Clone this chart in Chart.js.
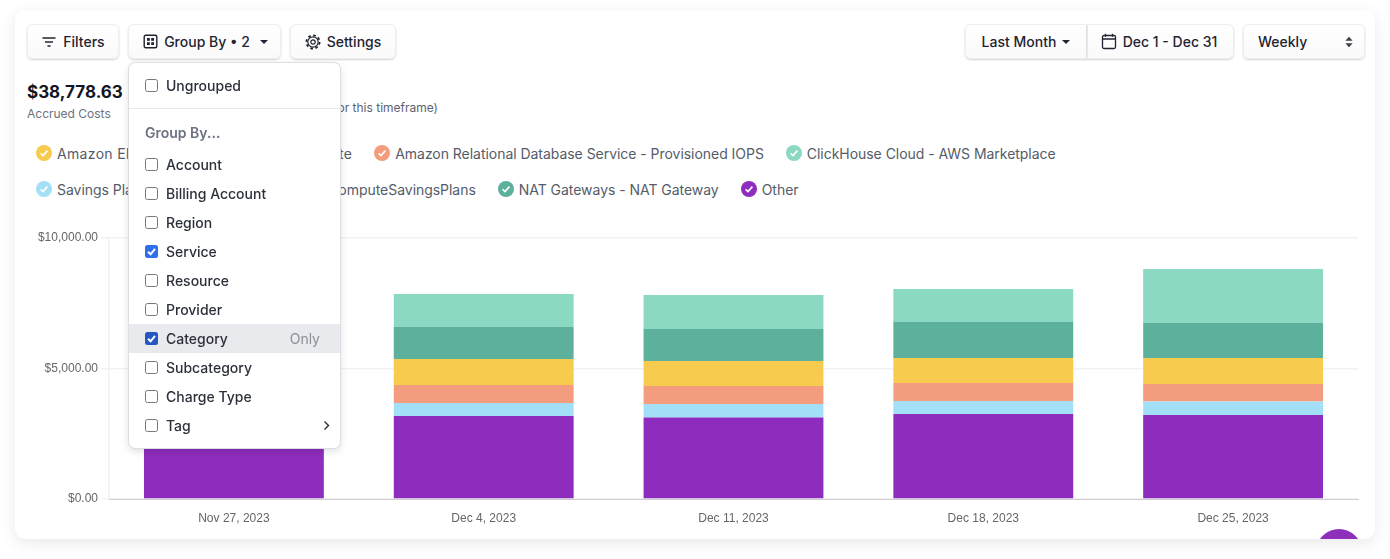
<!DOCTYPE html>
<html>
<head>
<meta charset="utf-8">
<title>Costs</title>
<script src="https://cdn.jsdelivr.net/npm/chart.js@4"></script>
<style>
  * { box-sizing: border-box; }
  html, body { margin: 0; height: 100%; background: #fff; overflow: hidden; font-family: Inter, sans-serif; }
  #card { position: absolute; left: 15px; top: 10px; width: 1360px; height: 529px; background: #fff; border-radius: 10px;
          box-shadow: 0 4px 16px rgba(0,0,0,.09); overflow: hidden; }
  #page { position: absolute; left: 0; top: 0; width: 1390px; height: 559px; }
  .btn { position: absolute; top: 24px; height: 35px; display: flex; align-items: center; justify-content: center; gap: 6px;
         background: linear-gradient(#fff, #fafafa); border-radius: 6px; border: 1px solid #eceef0; box-shadow: 0 1px 2px rgba(0,0,0,.18);
         font-size: 14px; font-weight: 500; color: #1f2430; white-space: nowrap; }
  .caret { width: 0; height: 0; border: 4px solid transparent; border-top: 4px solid #1f2430; border-bottom: 0; }
  #total { position: absolute; left: 27px; top: 81px; font-size: 17px; font-weight: 700; color: #14171f; line-height: 22px; }
  #totalLabel { position: absolute; left: 27px; top: 106px; font-size: 12px; color: #6b7280; line-height: 15px; }
  #forecast { position: absolute; right: 952px; top: 100px; font-size: 12px; color: #5b6270; line-height: 15px; white-space: nowrap; }
  #legend { position: absolute; left: 36px; top: 135px; width: 1320px; display: flex; flex-wrap: wrap; column-gap: 22px; }
  .item { display: flex; align-items: center; gap: 5px; height: 36px; font-size: 14px; color: #555c69; white-space: nowrap; letter-spacing: -.04px; }
  .dot { width: 16px; height: 16px; border-radius: 50%; display: block; }
  #chartBox { position: absolute; left: 15px; top: 225px; width: 1360px; height: 310px; }
  #fab { position: absolute; width: 46px; height: 46px; border-radius: 50%; background: #8e2fbb; }
  #menu { position: absolute; left: 129px; top: 63px; width: 211px; height: 385px; background: #fff; border-radius: 6px;
          box-shadow: 0 0 0 1px #dcdee2, 0 3px 8px rgba(0,0,0,.14); font-size: 14px; font-weight: 500; color: #2b303b; }
  .row { position: absolute; left: 0; width: 211px; height: 29px; display: flex; align-items: center; padding-left: 16px; }
  .box { width: 13px; height: 13px; border-radius: 2.5px; border: 1px solid #74777f; background: #fff; margin-right: 8px; display: block; }
  .box.on { border: 0; }
  #sep { position: absolute; left: 0; width: 211px; top: 45px; height: 1px; background: #e8e9ec; }
</style>
</head>
<body>
<div id="page">
  <div id="card"></div>
  <div id="fabClip" style="position:absolute;left:15px;top:10px;width:1360px;height:529px;overflow:hidden;border-radius:10px">
    <div id="fab" style="left:1301px;top:519px"></div>
  </div>

  <div class="btn" style="left:27px;width:92px">
    <svg width="16" height="16" viewBox="0 0 16 16" fill="none" stroke="#1f2430" stroke-width="1.3"><path d="M1.5 4h13M4 8h8M6.5 12h3"/></svg>
    <span>Filters</span>
  </div>
  <div class="btn" style="left:128px;width:153px;padding-left:2px">
    <svg width="15" height="15" viewBox="0 0 15 15" fill="none" stroke="#1f2430" stroke-width="1.4"><rect x="1.2" y="1.2" width="12.6" height="12.6" rx="1.5"/><rect x="4" y="4" width="2.8" height="2.8" fill="#1f2430" stroke="none"/><rect x="8.2" y="4" width="2.8" height="2.8" fill="#1f2430" stroke="none"/><rect x="4" y="8.2" width="2.8" height="2.8" fill="#1f2430" stroke="none"/><rect x="8.2" y="8.2" width="2.8" height="2.8" fill="#1f2430" stroke="none"/></svg>
    <span>Group By • 2</span><i class="caret" style="margin-left:4px"></i>
  </div>
  <div class="btn" style="left:290px;width:106px">
    <svg width="16" height="16" viewBox="0 0 16 16" fill="none" stroke="#1f2430"><circle cx="8" cy="8" r="2.2" stroke-width="1.2"/><circle cx="8" cy="8" r="5.2" stroke-width="1.2"/><circle cx="8" cy="8" r="6.6" stroke-width="1.8" stroke-dasharray="2.6 2.58"/></svg>
    <span>Settings</span>
  </div>
  <div class="btn" style="left:965px;width:122px;border-radius:6px 0 0 6px">
    <span>Last Month</span><i class="caret"></i>
  </div>
  <div class="btn" style="left:1087px;width:147px;border-radius:0 6px 6px 0;border-left:1px solid #e6e7ea;padding-right:3px">
    <svg width="16" height="17" viewBox="0 0 16 17" fill="none" stroke="#1f2430" stroke-width="1.3"><rect x="1.5" y="2.5" width="13" height="13" rx="1.5"/><path d="M1.5 6h13M4.5 .8v3M11.5 .8v3"/></svg>
    <span>Dec 1 - Dec 31</span>
  </div>
  <div class="btn" style="left:1243px;width:122px;justify-content:flex-start;padding-left:14px">
    <span>Weekly</span>
    <svg style="position:absolute;left:101px;top:11px" width="8" height="12" viewBox="0 0 8 12" fill="#3a3f4a"><path d="M4 .8 7.6 4.8H.4zM4 11.2.4 7.2h7.2z"/></svg>
  </div>

  <div id="total">$38,778.63</div>
  <div id="totalLabel">Accrued Costs</div>
  <div id="forecast">(for this timeframe)</div>
  <div id="legend"></div>
  <div id="chartBox"><canvas id="costChart"></canvas></div>

  <div id="menu">
    <div class="row" style="top:8px"><i class="box"></i>Ungrouped</div>
    <div id="sep"></div>
    <div class="row" style="top:55px;color:#6b7280;font-weight:600;padding-left:16px">Group By...</div>
    <div id="menuRows"></div>
  </div>
</div>

<script>
const weeks = ['Nov 27, 2023', 'Dec 4, 2023', 'Dec 11, 2023', 'Dec 18, 2023', 'Dec 25, 2023'];
const yTicks = [0, 5000, 10000];

const otherCosts      = [2400, 3180, 3120, 3257, 3218];
const savingsPlans    = [430, 500, 520, 498, 518];
const rdsIops         = [560, 690, 690, 689, 670];
const elasticCompute  = [800, 996, 957, 958, 996];
const natGateways     = [1060, 1226, 1226, 1380, 1341];
const clickHouse      = [1000, 1264, 1303, 1264, 2069];

const colElastic = '#f7cb4e', colRds = '#f39c7e', colClick = '#8bd8c3';
const colSavings = '#a3e0f7', colNat = '#5cb09c', colOther = '#8e2dbd';

const legendItems = [
  ['Amazon Elastic Compute Cloud - Compute', colElastic],
  ['Amazon Relational Database Service - Provisioned IOPS', colRds],
  ['ClickHouse Cloud - AWS Marketplace', colClick],
  ['Savings Plans for AWS Compute usage - ComputeSavingsPlans', colSavings],
  ['NAT Gateways - NAT Gateway', colNat],
  ['Other', colOther],
];

const menuNames = ['Account', 'Billing Account', 'Region', 'Service', 'Resource', 'Provider', 'Category', 'Subcategory', 'Charge Type', 'Tag'];

function fmtMoney(v) {
  return '$' + v.toLocaleString('en-US', { minimumFractionDigits: 2, maximumFractionDigits: 2 });
}

function checkBox(color) {
  if (!color) return '<i class="box"></i>';
  return '<svg class="box on" style="background:' + color + '" viewBox="0 0 13 13" fill="none" stroke="#fff" stroke-width="2"><path d="M3 6.8 5.6 9.3 10 3.8"/></svg>';
}

/* legend sits in the page, same as the filter row */
document.getElementById('legend').innerHTML = legendItems.map(([name, color], i) =>
  '<div class="item"' + (i === 0 ? ' style="letter-spacing:.33px"' : '') + '><svg class="dot" style="background:' + color + '" viewBox="0 0 16 16" fill="none" stroke="#fff" stroke-width="1.6"><path d="M4.6 8.3 7 10.6 11.4 5.6"/></svg><span>' + name + '</span></div>'
).join('');

document.getElementById('menuRows').innerHTML = menuNames.map((name, i) => {
  const top = 87 + i * 29;
  const hover = name === 'Category';
  const box = name === 'Service' ? checkBox('#2f6fed') : hover ? checkBox('#2456c4') : checkBox(null);
  let tail = '';
  if (hover) tail = '<span style="position:absolute;right:20px;font-weight:400;color:#8b8f96">Only</span>';
  if (name === 'Tag') tail = '<svg style="position:absolute;left:194px;top:9px" width="7" height="11" viewBox="0 0 7 11" fill="none" stroke="#2b303b" stroke-width="1.4"><path d="M1.5 1.5 5.5 5.5 1.5 9.5"/></svg>';
  return '<div class="row" style="top:' + top + 'px;' + (hover ? 'background:#e9eaee' : '') + '">' + box + name + tail + '</div>';
}).join('');

const stacks = [
  ['Other', otherCosts, colOther],
  ['Savings Plans for AWS Compute usage - ComputeSavingsPlans', savingsPlans, colSavings],
  ['Amazon Relational Database Service - Provisioned IOPS', rdsIops, colRds],
  ['Amazon Elastic Compute Cloud - Compute', elasticCompute, colElastic],
  ['NAT Gateways - NAT Gateway', natGateways, colNat],
  ['ClickHouse Cloud - AWS Marketplace', clickHouse, colClick],
];

new Chart(document.getElementById('costChart'), {
  type: 'bar',
  data: {
    labels: weeks,
    datasets: stacks.map(([label, data, color]) => ({ label, data, backgroundColor: color, borderWidth: 0 })),
  },
  options: {
    responsive: true,
    maintainAspectRatio: false,
    animation: false,
    layout: { padding: { top: 13, right: 17 } },
    plugins: { legend: { display: false } },
    scales: {
      x: {
        stacked: true,
        afterFit: s => { s.height = 36; },
        grid: { display: false },
        border: { color: '#cfcfd2', width: 1 },
        ticks: { color: '#666', font: { family: 'Liberation Sans', size: 12 }, padding: 4, maxRotation: 0 },
      },
      y: {
        stacked: true,
        min: 0,
        max: 10000,
        afterFit: s => { s.width = 94; },
        afterBuildTicks: s => { s.ticks = yTicks.map(value => ({ value })); },
        grid: { color: '#f1f1f2', lineWidth: 1.5, tickLength: 8 },
        border: { color: '#f1f1f2', width: 1.5 },
        ticks: { color: '#666', font: { family: 'Liberation Sans', size: 12 }, padding: 3, callback: v => fmtMoney(v) },
      },
    },
  },
});
</script>
</body>
</html>
